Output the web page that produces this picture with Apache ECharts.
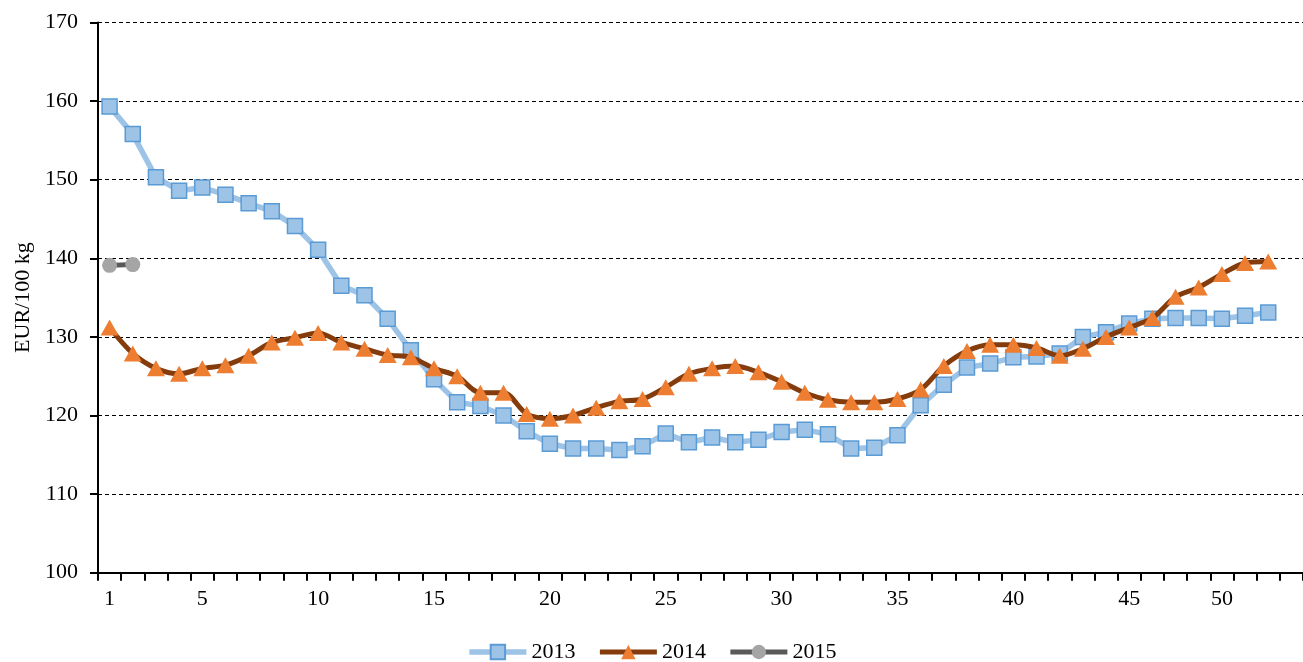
<!DOCTYPE html>
<html>
<head>
<meta charset="utf-8">
<script src="https://cdn.jsdelivr.net/npm/echarts@6/dist/echarts.min.js"></script>
<style>
html,body{margin:0;padding:0;background:#fff;}
#chart{width:1303px;height:662px;}
</style>
</head>
<body>
<div id="chart"></div>
<script>
// Category tick labels (52 week slots)
const weekLabels = ["1","","","","5","","","","","10","","","","","15","","","","","20","","","","","25","","","","","30","","","","","35","","","","","40","","","","","45","","","","50","","",""];

const seriesNames = ["2013","2014","2015"];

const values2013 = [159.3,155.8,150.3,148.6,149.0,148.1,147.0,146.0,144.1,141.1,
  136.5,135.3,132.3,128.3,124.6,121.7,121.2,120.0,118.0,116.4,
  115.8,115.8,115.6,116.1,117.7,116.6,117.2,116.6,116.9,117.9,
  118.2,117.6,115.8,115.9,117.5,121.3,123.9,126.1,126.6,127.4,
  127.5,127.9,130.0,130.6,131.7,132.3,132.4,132.4,132.3,132.7,133.1];

const values2014 = [131.2,127.9,126.0,125.3,126.0,126.4,127.6,129.3,129.9,130.5,
  129.3,128.5,127.7,127.4,126.0,125.0,122.9,122.9,120.2,119.6,
  120.0,121.0,121.8,122.1,123.6,125.3,126.0,126.3,125.5,124.3,
  122.9,122.0,121.7,121.7,122.1,123.3,126.3,128.2,129.0,129.0,
  128.6,127.6,128.5,130.0,131.2,132.4,135.1,136.3,138.0,139.4,139.6];

const values2015 = [139.1,139.2];

const yTicks = {min:100, max:170, interval:10};

const FONT = 'Liberation Serif, Times New Roman, serif';

const chart = echarts.init(document.getElementById('chart'));
chart.setOption({
  animation:false,
  backgroundColor:'#fff',
  textStyle:{fontFamily:FONT},
  grid:{left:98, right:0, top:22.5, bottom:89.3, containLabel:false},
  legend:{
    data:seriesNames,
    top:636,
    left:'center',
    itemWidth:57,
    itemHeight:18,
    itemGap:22,
    lineStyle:{width:'inherit'},
    textStyle:{fontFamily:FONT, fontSize:22, color:'#000'}
  },
  xAxis:{
    type:'category',
    data:weekLabels,
    boundaryGap:true,
    axisLine:{show:true, lineStyle:{color:'#000', width:2}},
    axisTick:{show:true, interval:0, length:8, lineStyle:{color:'#000', width:2}},
    axisLabel:{interval:0, margin:16, color:'#000', textStyle:{fontFamily:FONT, fontSize:22}, fontFamily:FONT, fontSize:22},
    splitLine:{show:false}
  },
  yAxis:{
    type:'value',
    min:yTicks.min, max:yTicks.max, interval:yTicks.interval,
    name:'EUR/100 kg',
    nameLocation:'middle',
    nameGap:63,
    nameRotate:90,
    nameTextStyle:{fontFamily:FONT, fontSize:22, color:'#000'},
    axisLine:{show:true, lineStyle:{color:'#000', width:2}},
    axisTick:{show:true, length:8, lineStyle:{color:'#000', width:2}},
    axisLabel:{margin:20, color:'#000', fontFamily:FONT, fontSize:22},
    splitLine:{show:true, lineStyle:{color:'#000', width:1, type:[4,3]}}
  },
  series:[
    {
      name:seriesNames[0], type:'line', data:values2013,
      symbol:'rect', symbolSize:15,
      lineStyle:{color:'#9DC3E6', width:5.5},
      itemStyle:{color:'#9DC3E6', borderColor:'#5B9BD5', borderWidth:1.5},
      z:2
    },
    {
      name:seriesNames[1], type:'line', data:values2014,
      smooth:0.3,
      symbol:'triangle', symbolSize:[18,16],
      lineStyle:{color:'#843C0C', width:5},
      itemStyle:{color:'#ED7D31', borderColor:'#ED7D31', borderWidth:0},
      z:3
    },
    {
      name:seriesNames[2], type:'line', data:values2015,
      symbol:'circle', symbolSize:15,
      lineStyle:{color:'#595959', width:5},
      itemStyle:{color:'#A5A5A5', borderWidth:0},
      z:4
    }
  ]
});
</script>
</body>
</html>
